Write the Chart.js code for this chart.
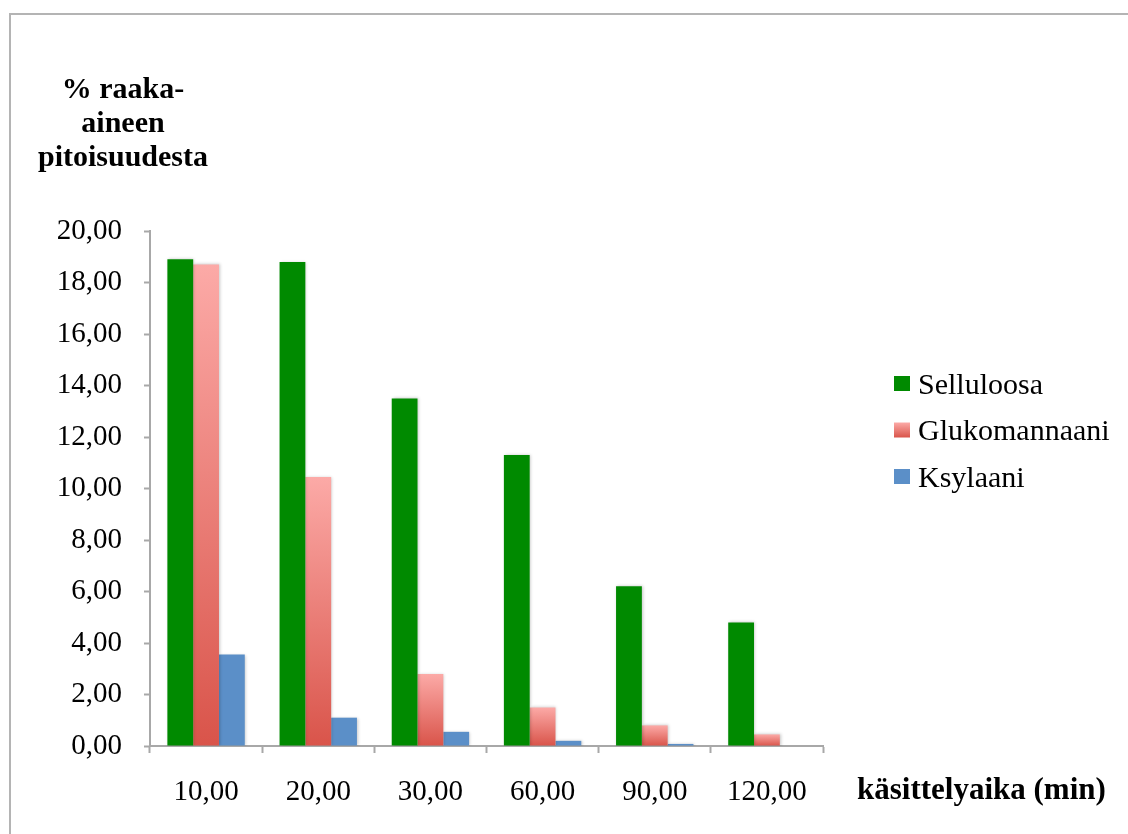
<!DOCTYPE html>
<html lang="fi">
<head>
  <meta charset="UTF-8">
  <title>Käsittelyaika ja raaka-aineen pitoisuus</title>
  <script src="https://cdn.jsdelivr.net/npm/chart.js"></script>
  <style>
    body { margin: 0; background: #fff; }
    #frame {
      position: absolute; left: 9px; top: 13px; width: 1200px; height: 900px;
      border: 2px solid #b4b4b4; box-sizing: border-box;
    }
    canvas { position: absolute; left: 0; top: 0; }
  </style>
</head>
<body>
  <div id="frame"></div>
  <canvas id="chart" width="1128" height="834"></canvas>

  <script>
    const times = ['10,00', '20,00', '30,00', '60,00', '90,00', '120,00'];
    const selluloosa = [18.9, 18.8, 13.5, 11.3, 6.2, 4.8];
    const glukomannaani = [18.7, 10.45, 2.8, 1.5, 0.8, 0.45];
    const ksylaani = [3.55, 1.1, 0.55, 0.2, 0.08, 0.0];

    const serif = "'Liberation Serif', 'Times New Roman', serif";

    // pink bars fade from light at the top of each bar to red at its base
    function pinkGradient(ctx, top, base) {
      const g = ctx.createLinearGradient(0, top, 0, base);
      g.addColorStop(0, '#fcaaa7');
      g.addColorStop(1, '#d9544a');
      return g;
    }

    function pinkFill(c) {
      const chart = c.chart;
      const y = chart.scales.y;
      if (!chart.chartArea || !y || c.type !== 'data') return '#ec7f7a';
      return pinkGradient(chart.ctx, y.getPixelForValue(c.raw), y.getPixelForValue(0));
    }

    const extras = {
      id: 'extras',
      beforeDatasetsDraw(chart) {
        const ctx = chart.ctx;
        ctx.save();
        ctx.shadowColor = 'rgba(0,0,0,0.22)';
        ctx.shadowBlur = 3;
        ctx.shadowOffsetX = 1;
        ctx.shadowOffsetY = 0;
      },
      afterDatasetsDraw(chart) {
        chart.ctx.restore();
      },
      afterDraw(chart) {
        const ctx = chart.ctx;
        ctx.save();
        ctx.fillStyle = '#000';
        ctx.textBaseline = 'middle';

        // y axis title
        ctx.font = 'bold 30px ' + serif;
        ctx.textAlign = 'center';
        ['% raaka-', 'aineen', 'pitoisuudesta'].forEach((t, i) => {
          ctx.fillText(t, 123, 90 + i * 34);
        });

        // x axis title
        ctx.font = 'bold 31px ' + serif;
        ctx.textAlign = 'left';
        ctx.fillText('käsittelyaika (min)', 857, 791);

        // legend
        ctx.font = '30px ' + serif;
        chart.data.datasets.forEach((ds, i) => {
          const cy = 384 + i * 46.5;
          ctx.fillStyle = ds.legendColor === 'gradient'
            ? pinkGradient(ctx, cy - 8, cy + 7)
            : ds.legendColor;
          ctx.fillRect(894, cy - 8, 16, 15);
          ctx.fillStyle = '#000';
          ctx.fillText(ds.label, 918, cy + 2);
        });
        ctx.restore();
      }
    };

    new Chart(document.getElementById('chart'), {
      type: 'bar',
      data: {
        labels: times,
        datasets: [
          { label: 'Selluloosa', data: selluloosa, backgroundColor: '#008a00', legendColor: '#008a00' },
          { label: 'Glukomannaani', data: glukomannaani, backgroundColor: pinkFill, legendColor: 'gradient' },
          { label: 'Ksylaani', data: ksylaani, backgroundColor: '#5b8fc8', legendColor: '#5b8fc8' }
        ]
      },
      options: {
        responsive: false,
        animation: false,
        layout: { padding: { top: 231, right: 305, left: 0, bottom: 0 } },
        datasets: { bar: { barPercentage: 1, categoryPercentage: 0.69 } },
        plugins: {
          legend: { display: false },
          tooltip: { enabled: false }
        },
        scales: {
          x: {
            afterFit(s) { s.height = 88; },
            border: { color: '#a8a8a8', width: 2 },
            grid: { offset: true, drawOnChartArea: false, tickLength: 7, tickColor: '#a8a8a8', tickWidth: 2 },
            ticks: { color: '#000', padding: 22, font: { family: serif, size: 29 } }
          },
          y: {
            min: 0,
            max: 20,
            afterFit(s) { s.width = 150; },
            border: { color: '#a8a8a8', width: 2 },
            grid: { drawOnChartArea: false, tickLength: 6, tickColor: '#a8a8a8', tickWidth: 2 },
            ticks: {
              stepSize: 2,
              color: '#000',
              padding: 22,
              font: { family: serif, size: 29 },
              callback: v => v.toFixed(2).replace('.', ',')
            }
          }
        }
      },
      plugins: [extras]
    });
  </script>
</body>
</html>
